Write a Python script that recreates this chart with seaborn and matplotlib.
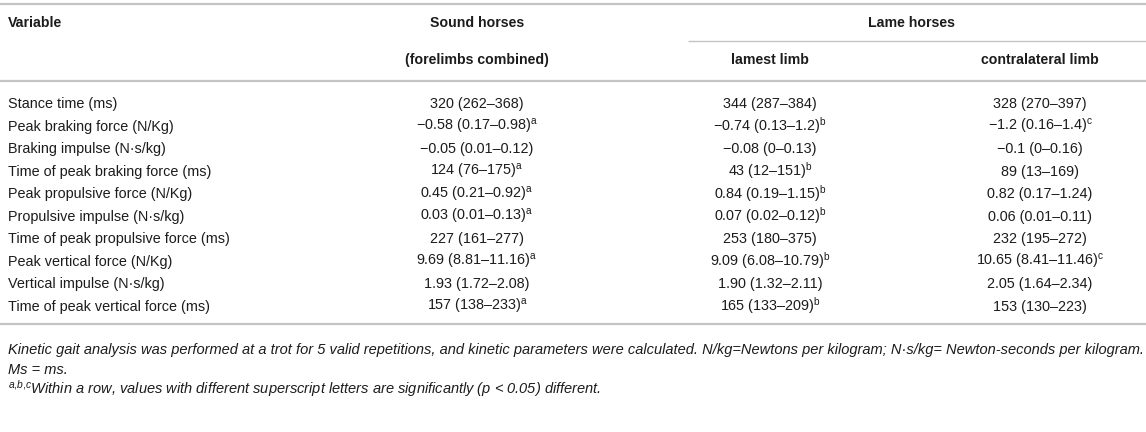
import matplotlib
matplotlib.use("Agg")
import matplotlib.pyplot as plt
import seaborn as sns

sns.set_theme(style="white")
plt.rcParams['font.family'] = ['Liberation Sans', 'DejaVu Sans']
plt.rcParams['mathtext.fontset'] = 'custom'
plt.rcParams['mathtext.rm'] = 'Liberation Sans'
plt.rcParams['mathtext.it'] = 'Liberation Sans:italic'

# ---- data ----
variables = [
    "Stance time (ms)",
    "Peak braking force (N/Kg)",
    "Braking impulse (N·s/kg)",
    "Time of peak braking force (ms)",
    "Peak propulsive force (N/Kg)",
    "Propulsive impulse (N·s/kg)",
    "Time of peak propulsive force (ms)",
    "Peak vertical force (N/Kg)",
    "Vertical impulse (N·s/kg)",
    "Time of peak vertical force (ms)",
]
sound = ["320 (262–368)", "−0.58 (0.17–0.98)", "−0.05 (0.01–0.12)", "124 (76–175)",
         "0.45 (0.21–0.92)", "0.03 (0.01–0.13)", "227 (161–277)", "9.69 (8.81–11.16)",
         "1.93 (1.72–2.08)", "157 (138–233)"]
sound_sup = ["", "a", "", "a", "a", "a", "", "a", "", "a"]
lamest = ["344 (287–384)", "−0.74 (0.13–1.2)", "−0.08 (0–0.13)", "43 (12–151)",
          "0.84 (0.19–1.15)", "0.07 (0.02–0.12)", "253 (180–375)", "9.09 (6.08–10.79)",
          "1.90 (1.32–2.11)", "165 (133–209)"]
lamest_sup = ["", "b", "", "b", "b", "b", "", "b", "", "b"]
contra = ["328 (270–397)", "−1.2 (0.16–1.4)", "−0.1 (0–0.16)", "89 (13–169)",
          "0.82 (0.17–1.24)", "0.06 (0.01–0.11)", "232 (195–272)", "10.65 (8.41–11.46)",
          "2.05 (1.64–2.34)", "153 (130–223)"]
contra_sup = ["", "c", "", "", "", "", "", "c", "", ""]

header_var = "Variable"
header_sound = ["Sound horses", "(forelimbs combined)"]
header_lame = "Lame horses"
header_sub = ["lamest limb", "contralateral limb"]
footnotes = [
    "Kinetic gait analysis was performed at a trot for 5 valid repetitions, and kinetic parameters were calculated. N/kg=Newtons per kilogram; N·s/kg= Newton-seconds per kilogram.",
    "Ms = ms.",
]
footnote_sup = "a{,}b{,}c"
footnote_last = "Within a row, values with different superscript letters are significantly (p < 0.05) different."

# ---- layout ----
W, H = 1146, 432
fig = plt.figure(figsize=(W / 100, H / 100), dpi=100)
ax = fig.add_axes([0, 0, 1, 1])
ax.set_xlim(0, W)
ax.set_ylim(H, 0)
ax.axis("off")

fs = 10.4
hfs = 10.2
txt = "#1c1c1c"
line_c = "#c4c4c4"
col_x = [477, 770, 1040]
x_var = 8

ax.hlines(4, 0, W, color=line_c, lw=1.6)
ax.hlines(81, 0, W, color=line_c, lw=1.6)
ax.hlines(40.5, 688, W, color=line_c, lw=1.0)

ax.text(x_var, 23, header_var, fontsize=hfs, fontweight="bold", color=txt, va="center", ha="left")
ax.text(col_x[0], 23, header_sound[0], fontsize=hfs, fontweight="bold", color=txt, va="center", ha="center")
ax.text(col_x[0], 60, header_sound[1], fontsize=hfs, fontweight="bold", color=txt, va="center", ha="center")
ax.text((688 + W) / 2 - 6, 23, header_lame, fontsize=hfs, fontweight="bold", color=txt, va="center", ha="center")
ax.text(col_x[1], 60, header_sub[0], fontsize=hfs, fontweight="bold", color=txt, va="center", ha="center")
ax.text(col_x[2], 60, header_sub[1], fontsize=hfs, fontweight="bold", color=txt, va="center", ha="center")

def cell(x, y, s, sup):
    label = s if not sup else s + r"$^{\mathrm{" + sup + "}}$"
    ax.text(x, y, label, fontsize=fs, color=txt, va="baseline", ha="center")

y0, dy = 108, 22.55
for i, v in enumerate(variables):
    y = y0 + i * dy
    ax.text(x_var, y, v, fontsize=fs, color=txt, va="baseline", ha="left")
    cell(col_x[0], y, sound[i], sound_sup[i])
    cell(col_x[1], y, lamest[i], lamest_sup[i])
    cell(col_x[2], y, contra[i], contra_sup[i])

ax.hlines(324, 0, W, color=line_c, lw=1.6)

ffs = 10.55
ax.text(x_var, 354, footnotes[0], fontsize=ffs, style="italic", color=txt, va="baseline", ha="left")
ax.text(x_var, 374, footnotes[1], fontsize=ffs, style="italic", color=txt, va="baseline", ha="left")
ax.text(x_var, 394, r"$^{\mathit{" + footnote_sup + "}}$" + footnote_last, fontsize=ffs, style="italic",
        color=txt, va="baseline", ha="left")

fig.savefig("out.png", dpi=100)
